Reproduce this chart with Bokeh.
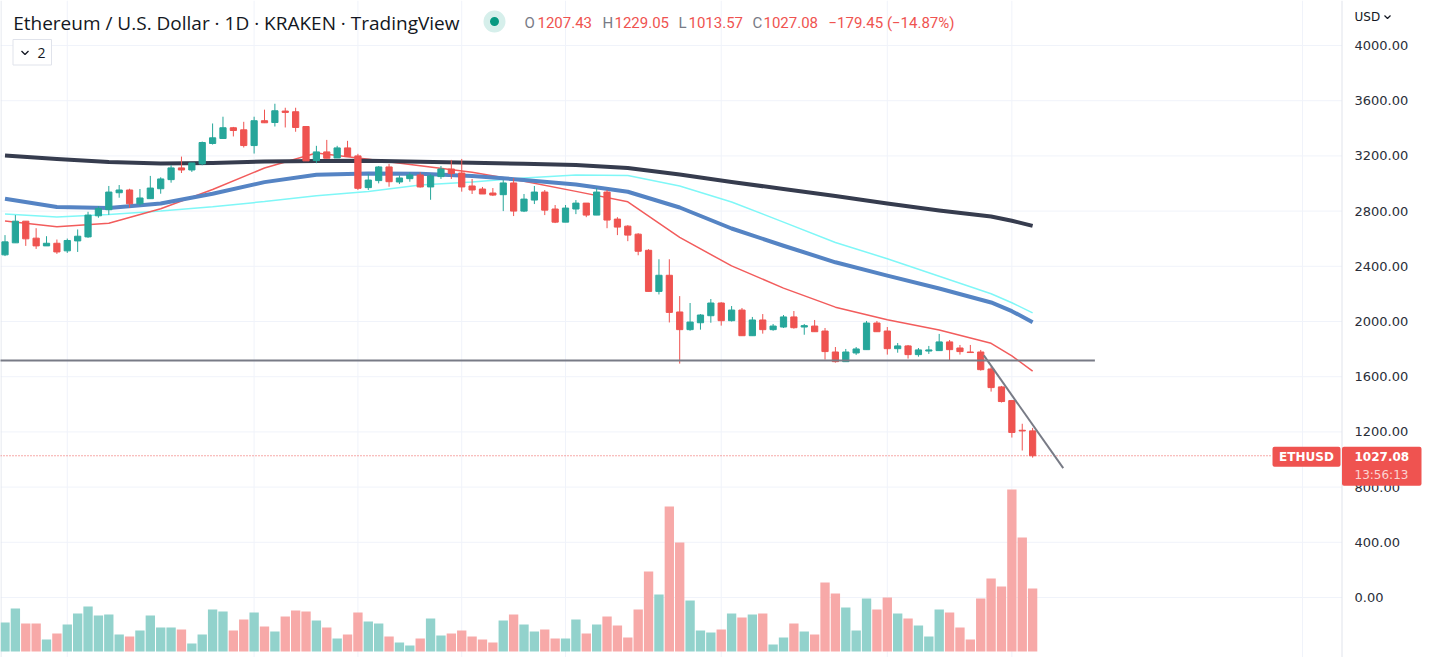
from bokeh.plotting import figure
from bokeh.models import Range1d, BoxAnnotation, Label
from bokeh.core.properties import value
from bokeh.embed import file_html
from bokeh.resources import INLINE

# ---------------- data (daily candles, ETH/USD, Kraken) ----------------
opens = [2483, 2570, 2727, 2604, 2548, 2567, 2512, 2584, 2613, 2766,
         2810, 2933, 2953, 2853, 2890, 2962, 3028, 3113, 3098, 3142,
         3290, 3326, 3404, 3389, 3275, 3455, 3442, 3525, 3520, 3413,
         3166, 3229, 3185, 3258, 3200, 2970, 3021, 3120, 3011, 3035,
         3062, 2975, 3050, 3105, 3076, 2982, 2960, 2931, 2919, 3004,
         2800, 2880, 2938, 2815, 2720, 2815, 2858, 2771, 2938, 2742,
         2691, 2633, 2516, 2218, 2335, 2069, 1941, 1991, 2042, 2134,
         2006, 2083, 1897, 2011, 1941, 1960, 2033, 1960, 1967, 1931,
         1779, 1709, 1772, 1796, 1989, 1931, 1803, 1823, 1760, 1786,
         1789, 1852, 1808, 1779, 1779, 1656, 1526, 1427, 1212, 1207.43]
highs = [2626, 2771, 2727, 2676, 2618, 2594, 2601, 2667, 2795, 2836,
         2982, 2989, 2962, 2960, 3055, 3045, 3132, 3195, 3149, 3304,
         3435, 3484, 3410, 3447, 3484, 3535, 3578, 3549, 3549, 3413,
         3273, 3316, 3273, 3309, 3215, 3069, 3127, 3142, 3059, 3081,
         3081, 3069, 3127, 3171, 3178, 3033, 2975, 2967, 3025, 3038,
         2924, 2982, 2953, 2844, 2844, 2880, 2858, 2967, 2953, 2756,
         2698, 2640, 2524, 2451, 2451, 2184, 2134, 2054, 2163, 2140,
         2112, 2098, 2033, 2054, 1982, 2047, 2076, 1982, 2011, 1953,
         1815, 1801, 1815, 2004, 2004, 1960, 1844, 1830, 1808, 1823,
         1910, 1866, 1830, 1830, 1794, 1671, 1533, 1427, 1259, 1229.05]
lows = [2474, 2570, 2548, 2526, 2548, 2490, 2497, 2504, 2606, 2752,
        2773, 2897, 2824, 2839, 2890, 2926, 3006, 3076, 3084, 3132,
        3282, 3326, 3341, 3261, 3217, 3438, 3413, 3406, 3375, 3164,
        3147, 3183, 3185, 3195, 2953, 2953, 3001, 2977, 2996, 3013,
        2970, 2882, 3033, 3033, 2941, 2924, 2924, 2909, 2800, 2764,
        2793, 2851, 2771, 2713, 2720, 2778, 2756, 2771, 2676, 2626,
        2582, 2480, 2218, 2196, 1993, 1695, 1933, 1941, 1991, 1970,
        2000, 1897, 1897, 1912, 1933, 1953, 1948, 1904, 1926, 1724,
        1702, 1709, 1758, 1796, 1926, 1760, 1774, 1731, 1745, 1765,
        1789, 1716, 1760, 1775, 1644, 1492, 1413, 1159, 1065, 1013.57]
closes = [2577, 2727, 2599, 2548, 2567, 2504, 2587, 2618, 2771, 2819,
          2938, 2953, 2853, 2895, 2967, 3033, 3113, 3098, 3149, 3297,
          3331, 3404, 3384, 3275, 3455, 3440, 3527, 3515, 3406, 3164,
          3229, 3183, 3258, 3195, 2965, 3025, 3120, 3013, 3040, 3062,
          2975, 3055, 3105, 3072, 2975, 2953, 2924, 2916, 3004, 2800,
          2887, 2938, 2807, 2720, 2822, 2858, 2771, 2938, 2735, 2684,
          2626, 2509, 2218, 2335, 2066, 1941, 1996, 2047, 2134, 2006,
          2083, 1897, 2011, 1941, 1967, 2033, 1955, 1970, 1926, 1782,
          1709, 1779, 1801, 1989, 1926, 1803, 1823, 1760, 1794, 1794,
          1852, 1796, 1782, 1775, 1651, 1521, 1420, 1196, 1206.53, 1027.08]
# volume, in hundreds of ETH
volumes = [29, 43, 28, 28, 12, 18, 27, 38, 45, 36,
           37, 17, 15, 21, 36, 24, 24, 22, 8, 17,
           42, 40, 21, 32, 39, 25, 20, 35, 41, 40,
           31, 24, 13, 17, 39, 30, 28, 15, 9, 6,
           13, 33, 16, 18, 21, 15, 12, 9, 31, 37,
           27, 20, 22, 13, 13, 32, 18, 27, 35, 26,
           14, 42, 80, 57, 145, 109, 51, 21, 19, 22,
           38, 34, 37, 38, 7, 14, 28, 20, 17, 69,
           58, 44, 21, 53, 42, 54, 38, 33, 26, 15,
           42, 39, 24, 12, 53, 73, 65, 162, 114, 63]

# moving averages, read at these candle indices
ma_idx = [0, 5, 10, 15, 20, 25, 30, 35, 40, 45, 50, 55, 60, 65, 70, 75, 80, 85, 90, 95, 97, 99]
ma_dark = [3203, 3178, 3156, 3145, 3149, 3159, 3163, 3165, 3157, 3150, 3143, 3134, 3112, 3065,
           3011, 2960, 2909, 2855, 2804, 2761, 2730, 2693]
ma_blue = [2890, 2830, 2823, 2855, 2926, 3010, 3064, 3072, 3071, 3055, 3026, 2993, 2940, 2826,
           2674, 2549, 2429, 2332, 2239, 2138, 2075, 1995]
ma_cyan = [2779, 2757, 2775, 2801, 2832, 2869, 2911, 2942, 2989, 3011, 3040, 3062, 3058, 2982,
           2866, 2720, 2572, 2455, 2328, 2201, 2136, 2063]
ma_red = [2728, 2687, 2712, 2817, 2957, 3112, 3221, 3176, 3128, 3081, 3017, 2943, 2867, 2609,
          2403, 2242, 2104, 2012, 1938, 1842, 1751, 1640]

support_level = 1717
support_idx = [-1, 105]
trend_idx = [94.3, 101.95]
trend_price = [1754, 937]

price_ticks = [0, 400, 800, 1200, 1600, 2000, 2400, 2800, 3200, 3600, 4000]
date_grid_idx = [6, 24, 34, 44, 54, 69, 85, 97, 125]

symbol = "ETHUSD"
title = "Ethereum / U.S. Dollar \u00b7 1D \u00b7 KRAKEN \u00b7 TradingView"
countdown = "13:56:13"

# ---------------- layout ----------------
W, H = 1429, 657
SP = 10.38           # px per candle
C0 = 4.5             # screen x of first candle
X0 = -C0 / SP
X1 = X0 + W / SP
PPD = 0.138          # px per dollar
YZ = 597.0           # screen y of price 0
Y0 = (YZ - H) / PPD
Y1 = YZ / PPD


def sx(px):
    return X0 + px / SP


def sy(py):
    return (YZ - py) / PPD


UP, DOWN = "#26a69a", "#ef5350"
VUP, VDOWN = "#92d2cc", "#f7a9a8"
TXT = "#131722"

p = figure(width=W, height=H, x_range=Range1d(X0, X1), y_range=Range1d(Y0, Y1),
           output_backend="svg", toolbar_location=None, min_border=0,
           x_axis_location=None, y_axis_location=None, outline_line_color=None,
           background_fill_color="white", border_fill_color="white")
p.grid.visible = False
p.extra_y_ranges = {"vol": Range1d(-6, 651)}

n = len(closes)
idx = list(range(n))
up = [c >= o for o, c in zip(opens, closes)]
axis_x = sx(1341.5)

# grid
p.segment(x0=[X0] * len(price_ticks), x1=[axis_x] * len(price_ticks), y0=price_ticks, y1=price_ticks,
          line_color="#f0f3fa", line_width=1)
p.segment(x0=date_grid_idx, x1=date_grid_idx, y0=[Y0] * len(date_grid_idx), y1=[Y1] * len(date_grid_idx),
          line_color="#f0f3fa", line_width=1)
p.segment(x0=[sx(0.5)], x1=[sx(0.5)], y0=[Y0], y1=[Y1], line_color="#e0e3eb", line_width=1)

# volume
p.vbar(x=idx, width=0.9, top=volumes, bottom=0, y_range_name="vol",
       fill_color=[VUP if u else VDOWN for u in up], line_color=None)

# moving averages
p.line(ma_idx, ma_cyan, line_color="#7ff7f7", line_width=1.5)
p.line(ma_idx, ma_red, line_color="#f25c5c", line_width=1.5)
p.line(ma_idx, ma_blue, line_color="#5584c4", line_width=4, line_join="round")
p.line(ma_idx, ma_dark, line_color="#363c4e", line_width=4, line_join="round")

# last price dotted line
p.line([X0, sx(1272)], [closes[-1], closes[-1]], line_color=DOWN, line_width=1, line_dash="1 2")

# candles
cols = [UP if u else DOWN for u in up]
p.segment(x0=idx, x1=idx, y0=lows, y1=highs, line_color=cols, line_width=1)
p.vbar(x=idx, width=0.6, top=[max(o, c) for o, c in zip(opens, closes)],
       bottom=[min(o, c) for o, c in zip(opens, closes)], fill_color=cols, line_color=cols, line_width=1)

# drawings
p.line(support_idx, [support_level, support_level], line_color="#787b86", line_width=2)
p.line(trend_idx, trend_price, line_color="#787b86", line_width=2)

# price scale
p.segment(x0=[axis_x], x1=[axis_x], y0=[Y0], y1=[Y1], line_color="#e0e3eb", line_width=1)
p.text(x=[sx(1354)] * len(price_ticks), y=price_ticks, text=[f"{t:.2f}" for t in price_ticks],
       text_font=value("DejaVu Sans"), text_font_size="13px", text_baseline="middle",
       text_align="left", text_color="#2a2e39")
p.text(x=[sx(1354)], y=[sy(16)], text=["USD"], text_font=value("DejaVu Sans"),
       text_font_size="12px", text_baseline="middle", text_align="left", text_color=TXT)
p.line([sx(1384), sx(1387), sx(1390)], [sy(15), sy(18), sy(15)], line_color=TXT, line_width=1.2)

# header legend
p.text(x=[sx(12.7)], y=[sy(22.5)], text=[title], text_font=value("Open Sans"),
       text_font_size="19px", text_baseline="middle", text_align="left", text_color=TXT)
p.scatter(x=[sx(494)], y=[sy(21)], size=22, fill_color="#d6efeb", line_color=None)
p.scatter(x=[sx(494)], y=[sy(21)], size=9, fill_color="#089981", line_color=None)
chg = closes[-1] - closes[-2]
pct = chg / closes[-2] * 100
pieces = [("O", "#787b86", 524), (f"{opens[-1]:.2f}", DOWN, 537),
          ("H", "#787b86", 602), (f"{highs[-1]:.2f}", DOWN, 614),
          ("L", "#787b86", 678), (f"{lows[-1]:.2f}", DOWN, 688),
          ("C", "#787b86", 752), (f"{closes[-1]:.2f}", DOWN, 763),
          (f"{chg:.2f} ({pct:.2f}%)".replace("-", "\u2212"), DOWN, 828)]
p.text(x=[sx(px) for _, _, px in pieces], y=[sy(22)] * len(pieces), text=[t for t, _, _ in pieces],
       text_color=[c for _, c, _ in pieces], text_font=value("Roboto"), text_font_size="15px",
       text_baseline="middle", text_align="left")

# collapsed-indicators box
p.quad(left=[sx(12.5)], right=[sx(51)], top=[sy(39)], bottom=[sy(64.5)], fill_color="white",
       line_color="#e0e3eb", line_width=1)
p.line([sx(21), sx(24.5), sx(28)], [sy(50.5), sy(54), sy(50.5)], line_color=TXT, line_width=1.3)
p.text(x=[sx(37)], y=[sy(52)], text=["2"], text_font=value("Open Sans"), text_font_size="14px",
       text_baseline="middle", text_align="left", text_color=TXT)

# last price labels
last = closes[-1]
p.add_layout(BoxAnnotation(left=sx(1272), right=sx(1340), top=last + 9 / PPD, bottom=last - 11 / PPD,
                           fill_color=DOWN, fill_alpha=1, line_color=None, border_radius=2))
p.add_layout(BoxAnnotation(left=axis_x, right=sx(1421), top=last + 9 / PPD, bottom=last - 30 / PPD,
                           fill_color=DOWN, fill_alpha=1, line_color=None, border_radius=2))
p.add_layout(Label(x=sx(1306), y=last - 1 / PPD, text=symbol, text_font="DejaVu Sans", text_font_size="12px",
                   text_font_style="bold", text_color="white", text_align="center", text_baseline="middle"))
p.add_layout(Label(x=sx(1354), y=last - 1 / PPD, text=f"{last:.2f}", text_font="DejaVu Sans",
                   text_font_size="12px", text_font_style="bold", text_color="white",
                   text_align="left", text_baseline="middle"))
p.add_layout(Label(x=sx(1354), y=last - 19 / PPD, text=countdown, text_font="DejaVu Sans",
                   text_font_size="12px", text_color="#fbd3d2", text_align="left", text_baseline="middle"))

open("out.html", "w").write(file_html(p, INLINE))
